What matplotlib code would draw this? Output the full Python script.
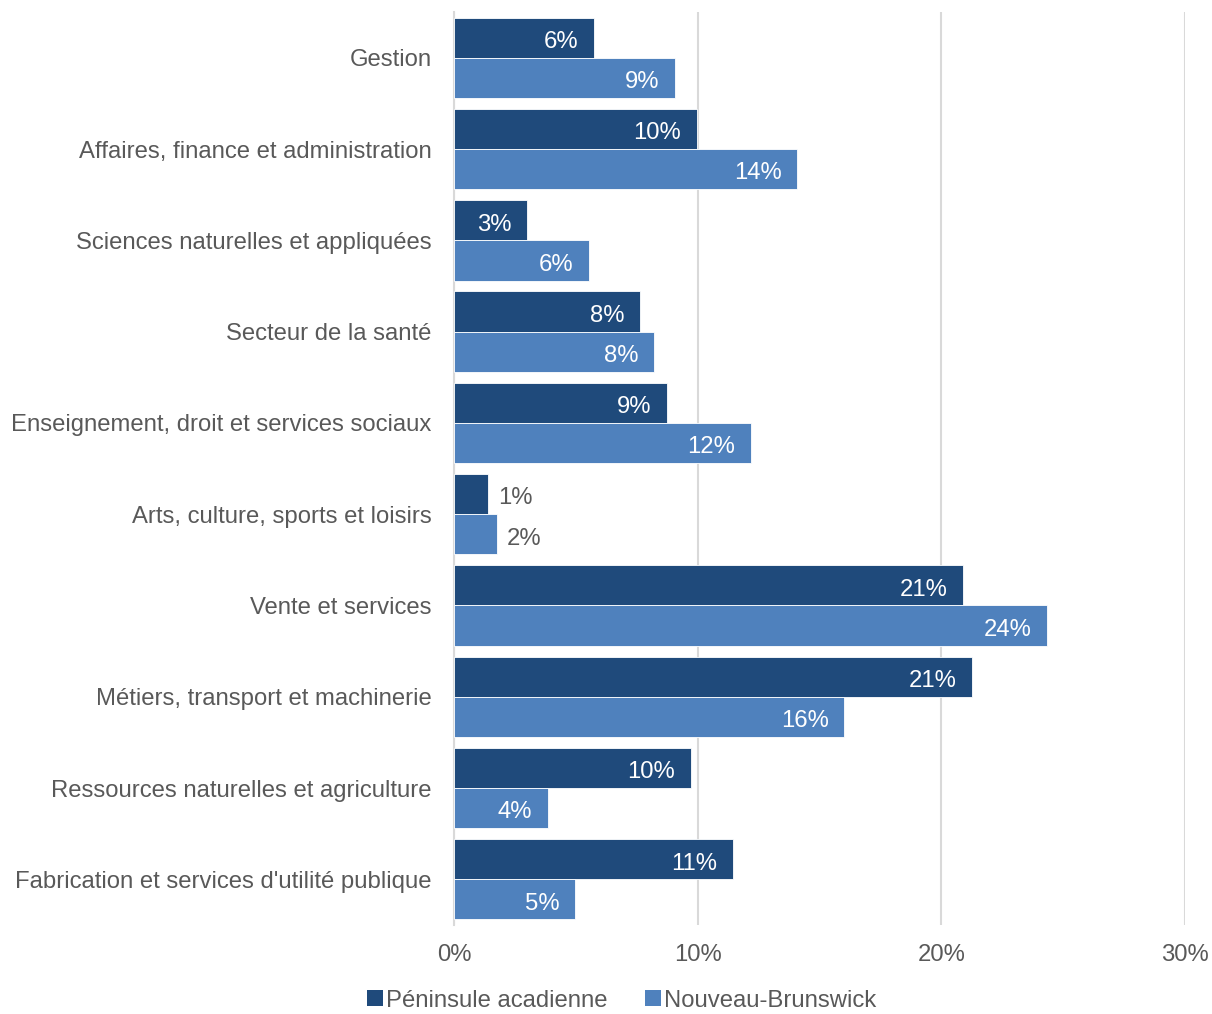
import matplotlib
matplotlib.use("Agg")
import matplotlib.pyplot as plt
from matplotlib.patches import Patch

plt.rcParams['font.family'] = ['Liberation Sans', 'DejaVu Sans']

categories = [
    "Gestion",
    "Affaires, finance et administration",
    "Sciences naturelles et appliquées",
    "Secteur de la santé",
    "Enseignement, droit et services sociaux",
    "Arts, culture, sports et loisirs",
    "Vente et services",
    "Métiers, transport et machinerie",
    "Ressources naturelles et agriculture",
    "Fabrication et services d'utilité publique",
]
peninsule = [5.75, 9.98, 3.0, 7.64, 8.75, 1.40, 20.9, 21.27, 9.73, 11.45]
nouveau_brunswick = [9.08, 14.09, 5.54, 8.21, 12.2, 1.77, 24.35, 16.02, 3.86, 4.97]
series_names = ["Péninsule acadienne", "Nouveau-Brunswick"]
xticks = [0, 10, 20, 30]

dark = "#1F4A7B"
light = "#4F81BD"
grey_text = "#595959"
grid_col = "#D9D9D9"
fs = 17.2

fig = plt.figure(figsize=(12.12, 10.14), dpi=100)
ax = fig.add_axes([0.3746, 0.0878, 0.6031, 0.9002])

h = 0.44
ys = list(range(len(categories)))
b1 = ax.barh([y - h / 2 for y in ys], peninsule, height=h, color=dark,
             edgecolor="white", linewidth=0.6, zorder=3)
b2 = ax.barh([y + h / 2 for y in ys], nouveau_brunswick, height=h, color=light,
             edgecolor="white", linewidth=0.6, zorder=3)

for bars, vals in ((b1, peninsule), (b2, nouveau_brunswick)):
    for bar, v in zip(bars, vals):
        yc = bar.get_y() + bar.get_height() / 2 + 0.02
        txt = f"{v:.0f}%"
        if v < 2.5:
            ax.text(v + 0.4, yc, txt, ha="left", va="center_baseline",
                    color=grey_text, fontsize=fs, zorder=4)
        else:
            ax.text(v - 0.65, yc, txt, ha="right", va="center_baseline",
                    color="white", fontsize=fs, zorder=4)

ax.set_xlim(0, 30)
ax.set_ylim(len(categories) - 0.5, -0.5)
ax.set_xticks(xticks)
ax.set_xticklabels([f"{t}%" for t in xticks])
ax.set_yticks(ys)
ax.set_yticklabels(categories)
ax.tick_params(axis="both", length=0, labelsize=fs, labelcolor=grey_text)
ax.tick_params(axis="y", pad=16)
ax.tick_params(axis="x", pad=14)

ax.grid(axis="x", color=grid_col, linewidth=1.5, zorder=0)
for s in ("top", "right", "bottom"):
    ax.spines[s].set_visible(False)
ax.spines["left"].set_color(grid_col)
ax.spines["left"].set_linewidth(1.5)

handles = [Patch(facecolor=dark), Patch(facecolor=light)]
fig.legend(handles, series_names, loc="lower center", bbox_to_anchor=(0.513, -0.019),
           ncol=2, frameon=False, fontsize=fs, labelcolor=grey_text,
           handlelength=0.65, handleheight=0.65, handletextpad=0.12, columnspacing=1.6)

fig.savefig("out.png", dpi=100)
